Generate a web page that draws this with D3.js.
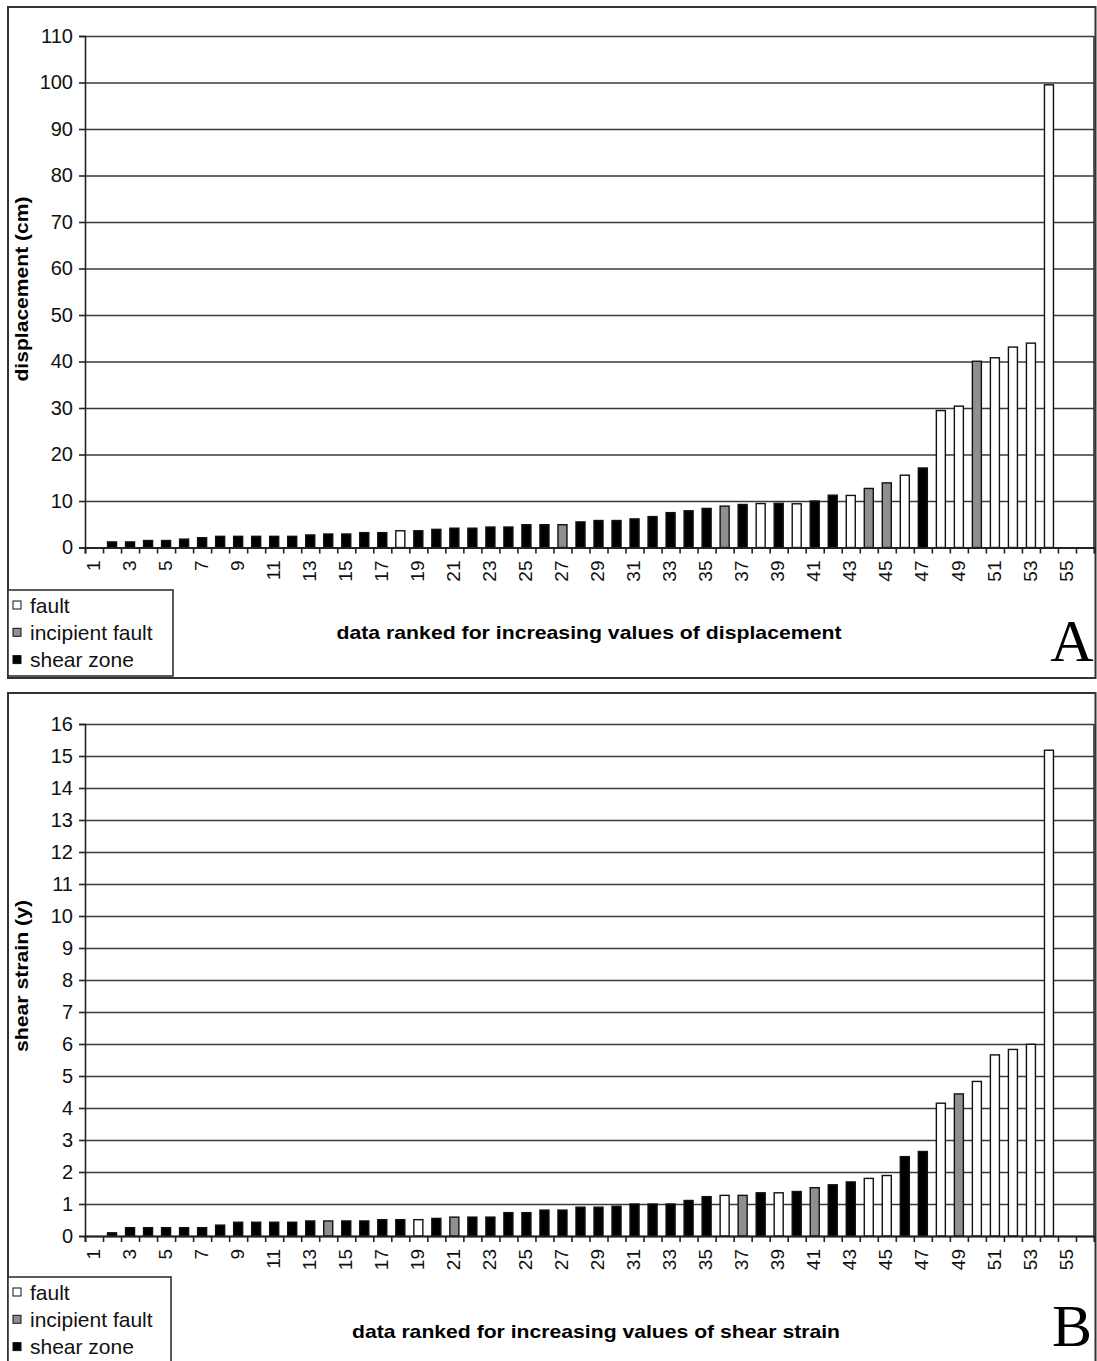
<!DOCTYPE html>
<html>
<head>
<meta charset="utf-8">
<script src="https://cdn.jsdelivr.net/npm/d3@7"></script>
<style>
	body { margin: 0; background: #fff; }
	svg { display: block; font-family: "Liberation Sans", Arial, Helvetica, sans-serif; }
</style>
</head>
<body>
<div id="chart"></div>
<script>
// ranks 1..56 on the x axis (55 and 56 stay empty)
const ranks = d3.range(1, 57)
const rankLabels = ranks.filter((r) => r % 2 === 1)

// F = fault, I = incipient fault, S = shear zone
const displacement = [
	0, 1.2, 1.2, 1.5, 1.5, 1.8, 2.1, 2.4, 2.4, 2.4,
	2.4, 2.4, 2.7, 2.9, 2.9, 3.2, 3.2, 3.6, 3.6, 3.9,
	4.15, 4.15, 4.4, 4.4, 4.9, 4.9, 4.9, 5.5, 5.8, 5.8,
	6.15, 6.65, 7.5, 7.9, 8.4, 8.9, 9.25, 9.45, 9.5, 9.4,
	10.0, 11.25, 11.2, 12.7, 13.9, 15.55, 17.1, 29.45, 30.4, 40.05,
	40.8, 43.1, 43.95, 99.5,
]
const displacementType = [
	"S", "S", "S", "S", "S", "S", "S", "S", "S", "S",
	"S", "S", "S", "S", "S", "S", "S", "F", "S", "S",
	"S", "S", "S", "S", "S", "S", "I", "S", "S", "S",
	"S", "S", "S", "S", "S", "I", "S", "F", "S", "F",
	"S", "S", "F", "I", "I", "F", "S", "F", "F", "I",
	"F", "F", "F", "F",
]

const shearStrain = [
	0, 0.1, 0.26, 0.26, 0.26, 0.26, 0.26, 0.34, 0.43, 0.43,
	0.43, 0.43, 0.47, 0.47, 0.47, 0.47, 0.51, 0.51, 0.51, 0.55,
	0.59, 0.59, 0.59, 0.73, 0.73, 0.81, 0.81, 0.9, 0.9, 0.93,
	1.0, 1.0, 1.0, 1.11, 1.23, 1.27, 1.27, 1.35, 1.35, 1.39,
	1.51, 1.6, 1.69, 1.8, 1.89, 2.48, 2.64, 4.15, 4.44, 4.83,
	5.66, 5.83, 5.99, 15.18,
]
const shearStrainType = [
	"S", "S", "S", "S", "S", "S", "S", "S", "S", "S",
	"S", "S", "S", "I", "S", "S", "S", "S", "F", "S",
	"I", "S", "S", "S", "S", "S", "S", "S", "S", "S",
	"S", "S", "S", "S", "S", "F", "I", "S", "F", "S",
	"I", "S", "S", "F", "F", "S", "S", "F", "I", "F",
	"F", "F", "F", "F",
]

const legendItems = [
	{ key: "F", label: "fault" },
	{ key: "I", label: "incipient fault" },
	{ key: "S", label: "shear zone" },
]
const fills = { F: "#ffffff", I: "#8f8f8f", S: "#000000" }

const W = 1097
const H = 1361

const svg = d3
	.select("#chart")
	.append("svg")
	.attr("width", W)
	.attr("height", H)

svg.append("rect").attr("width", W).attr("height", H).attr("fill", "#fff")

function drawPanel(p) {
	const left = 85
	const right = 1094
	const g = svg.append("g")

	// panel frame
	g.append("rect")
		.attr("x", 8)
		.attr("y", p.boxTop)
		.attr("width", 1087.5)
		.attr("height", p.boxHeight)
		.attr("fill", "none")
		.attr("stroke", "#333")
		.attr("stroke-width", 2)

	const x = d3
		.scaleBand()
		.domain(ranks)
		.range([left, right])
		.paddingInner(0.5)
		.paddingOuter(0.25)

	const xEdge = d3.scaleLinear().domain([0, ranks.length]).range([left, right])

	const y = d3.scaleLinear().domain([0, p.yMax]).range([p.bottom, p.top])

	// gridlines
	g.append("g")
		.attr("transform", `translate(${left},0)`)
		.call(
			d3.axisLeft(y)
				.tickValues(p.yTicks)
				.tickSize(-(right - left))
				.tickFormat("")
		)
		.call((s) => s.select(".domain").remove())
		.selectAll("line")
		.attr("stroke", "#3a3a3a")
		.attr("stroke-width", 1.6)

	// right frame of plot
	g.append("line")
		.attr("x1", right)
		.attr("x2", right)
		.attr("y1", p.top)
		.attr("y2", p.bottom)
		.attr("stroke", "#333")
		.attr("stroke-width", 1.6)

	// bars
	const data = p.values.map((v, i) => ({ rank: i + 1, v, t: p.types[i] }))
	g.append("g")
		.selectAll("rect")
		.data(data.filter((d) => d.v > 0))
		.join("rect")
		.attr("x", (d) => x(d.rank))
		.attr("width", x.bandwidth())
		.attr("y", (d) => y(d.v))
		.attr("height", (d) => y(0) - y(d.v))
		.attr("fill", (d) => fills[d.t])
		.attr("stroke", "#111")
		.attr("stroke-width", 1.4)

	// y axis
	const yAxis = g
		.append("g")
		.attr("transform", `translate(${left},0)`)
		.call(d3.axisLeft(y).tickValues(p.yTicks).tickSize(6).tickPadding(6))
	yAxis.selectAll("line").attr("stroke", "#222").attr("stroke-width", 1.6)
	yAxis.select(".domain").attr("stroke", "#222").attr("stroke-width", 1.6)
	yAxis
		.selectAll("text")
		.style("font-size", "20px")
		.attr("fill", "#111")

	// x axis ticks at category edges
	const xTicks = g
		.append("g")
		.attr("transform", `translate(0,${p.bottom})`)
		.call(
			d3.axisBottom(xEdge)
				.tickValues(d3.range(0, ranks.length + 1))
				.tickSize(6)
				.tickFormat("")
		)
	xTicks.selectAll("line").attr("stroke", "#222").attr("stroke-width", 1.6)
	xTicks.select(".domain").attr("stroke", "#222").attr("stroke-width", 1.8)

	// x labels, rotated
	const xLabels = g
		.append("g")
		.attr("transform", `translate(0,${p.bottom})`)
		.call(d3.axisBottom(x).tickValues(rankLabels).tickSize(0))
	xLabels.select(".domain").remove()
	xLabels
		.selectAll("text")
		.attr("transform", "rotate(-90)")
		.attr("text-anchor", "end")
		.attr("x", -13)
		.attr("y", -1)
		.attr("dy", "0.35em")
		.style("font-size", "19px")
		.attr("fill", "#111")

	// axis titles
	g.append("text")
		.attr("transform", `translate(28,${p.yTitleY}) rotate(-90)`)
		.attr("text-anchor", "middle")
		.attr("font-weight", "bold")
		.style("font-size", "19px")
		.attr("textLength", p.yTitleLen)
		.attr("lengthAdjust", "spacingAndGlyphs")
		.text(p.yTitle)

	g.append("text")
		.attr("x", p.xTitleX)
		.attr("y", p.xTitleY)
		.attr("text-anchor", "middle")
		.attr("font-weight", "bold")
		.style("font-size", "19px")
		.attr("textLength", p.xTitleLen)
		.attr("lengthAdjust", "spacingAndGlyphs")
		.text(p.xTitle)

	// panel letter
	g.append("text")
		.attr("x", 1072)
		.attr("y", p.letterY)
		.attr("text-anchor", "middle")
		.style("font-family", '"Liberation Serif", "DejaVu Serif", serif')
		.style("font-size", "60px")
		.text(p.letter)

	// legend
	const lg = g.append("g").attr("transform", `translate(8,${p.legendTop})`)
	lg.append("rect")
		.attr("width", p.legendW)
		.attr("height", 86)
		.attr("fill", "#fff")
		.attr("stroke", "#333")
		.attr("stroke-width", 1.6)
	legendItems.forEach((d, i) => {
		const row = lg.append("g").attr("transform", `translate(0,${15 + i * 27.3})`)
		row.append("rect")
			.attr("x", 5)
			.attr("y", -4)
			.attr("width", 8)
			.attr("height", 8)
			.attr("fill", fills[d.key])
			.attr("stroke", "#111")
			.attr("stroke-width", 1)
		row.append("text")
			.attr("x", 22)
			.attr("y", 7.5)
			.style("font-size", "21px")
			.attr("fill", "#111")
			.text(d.label)
	})
}

drawPanel({
	boxTop: 7,
	boxHeight: 671,
	top: 36,
	bottom: 547.5,
	yMax: 110,
	yTicks: d3.range(0, 111, 10),
	values: displacement,
	types: displacementType,
	yTitle: "displacement (cm)",
	yTitleY: 289,
	yTitleLen: 185,
	xTitle: "data ranked for increasing values of displacement",
	xTitleX: 589,
	xTitleY: 639,
	xTitleLen: 505,
	letter: "A",
	letterY: 661,
	legendTop: 590,
	legendW: 165,
})

drawPanel({
	boxTop: 693,
	boxHeight: 680,
	top: 724,
	bottom: 1236,
	yMax: 16,
	yTicks: d3.range(0, 17, 1),
	values: shearStrain,
	types: shearStrainType,
	yTitle: "shear strain (y)",
	yTitleY: 976,
	yTitleLen: 152,
	xTitle: "data ranked for increasing values of shear strain",
	xTitleX: 596,
	xTitleY: 1338,
	xTitleLen: 488,
	letter: "B",
	letterY: 1346,
	legendTop: 1277,
	legendW: 163,
})
</script>
</body>
</html>
